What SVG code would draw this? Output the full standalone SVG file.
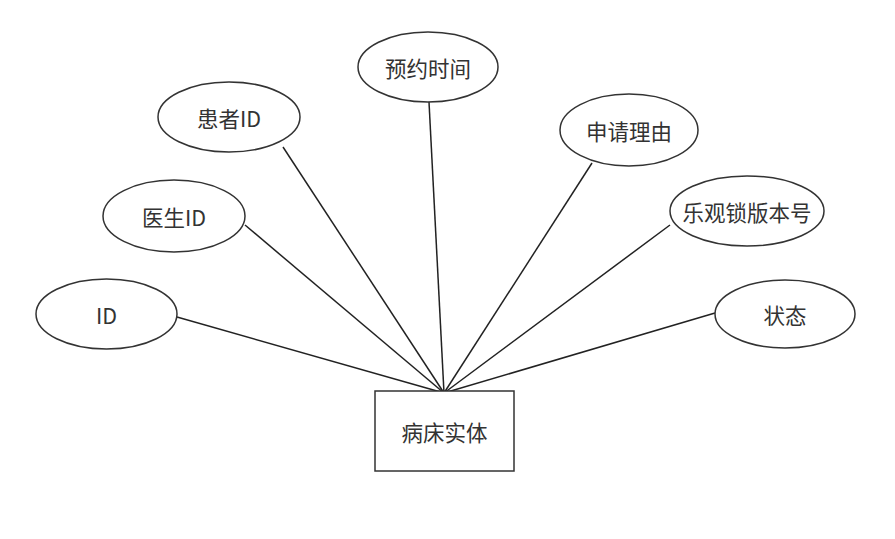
<svg xmlns="http://www.w3.org/2000/svg" width="895" height="539" viewBox="0 0 895 539">
<style>
.n{fill:#fff;stroke:#333;stroke-width:1.5}
.t{font-family:"Noto Sans CJK SC","Noto Sans",sans-serif;font-size:21.5px;fill:#333;text-anchor:middle;dominant-baseline:central}
.c{stroke:#222;stroke-width:1.5;fill:none}
</style>
<rect width="895" height="539" fill="#fff"/>
<g id="connectors">
<line class="c" x1="177" y1="317" x2="444" y2="393"/>
<line class="c" x1="245" y1="225" x2="444" y2="393"/>
<line class="c" x1="283" y1="147" x2="444" y2="393"/>
<line class="c" x1="429" y1="102" x2="444" y2="393"/>
<line class="c" x1="592" y1="163" x2="444" y2="393"/>
<line class="c" x1="670" y1="225" x2="444" y2="393"/>
<line class="c" x1="715" y1="313" x2="444" y2="393"/>
</g>
<g id="entity"><rect class="n" x="375" y="391" width="139" height="80"/><text class="t" x="444.5" y="431">病床实体</text></g>
<g id="attr-id"><ellipse class="n" cx="106.5" cy="314" rx="70.5" ry="35"/><text class="t" x="106.5" y="314">ID</text></g>
<g id="attr-doctor"><ellipse class="n" cx="174" cy="216" rx="71" ry="36"/><text class="t" x="174" y="216">医生ID</text></g>
<g id="attr-patient"><ellipse class="n" cx="229" cy="117" rx="71" ry="35"/><text class="t" x="229" y="117">患者ID</text></g>
<g id="attr-time"><ellipse class="n" cx="428" cy="67" rx="70" ry="35"/><text class="t" x="428" y="67">预约时间</text></g>
<g id="attr-reason"><ellipse class="n" cx="629" cy="130" rx="69" ry="36"/><text class="t" x="629" y="130">申请理由</text></g>
<g id="attr-version"><ellipse class="n" cx="747" cy="211" rx="77" ry="35"/><text class="t" x="747" y="211">乐观锁版本号</text></g>
<g id="attr-status"><ellipse class="n" cx="785" cy="314" rx="70" ry="34"/><text class="t" x="785" y="314">状态</text></g>
</svg>
